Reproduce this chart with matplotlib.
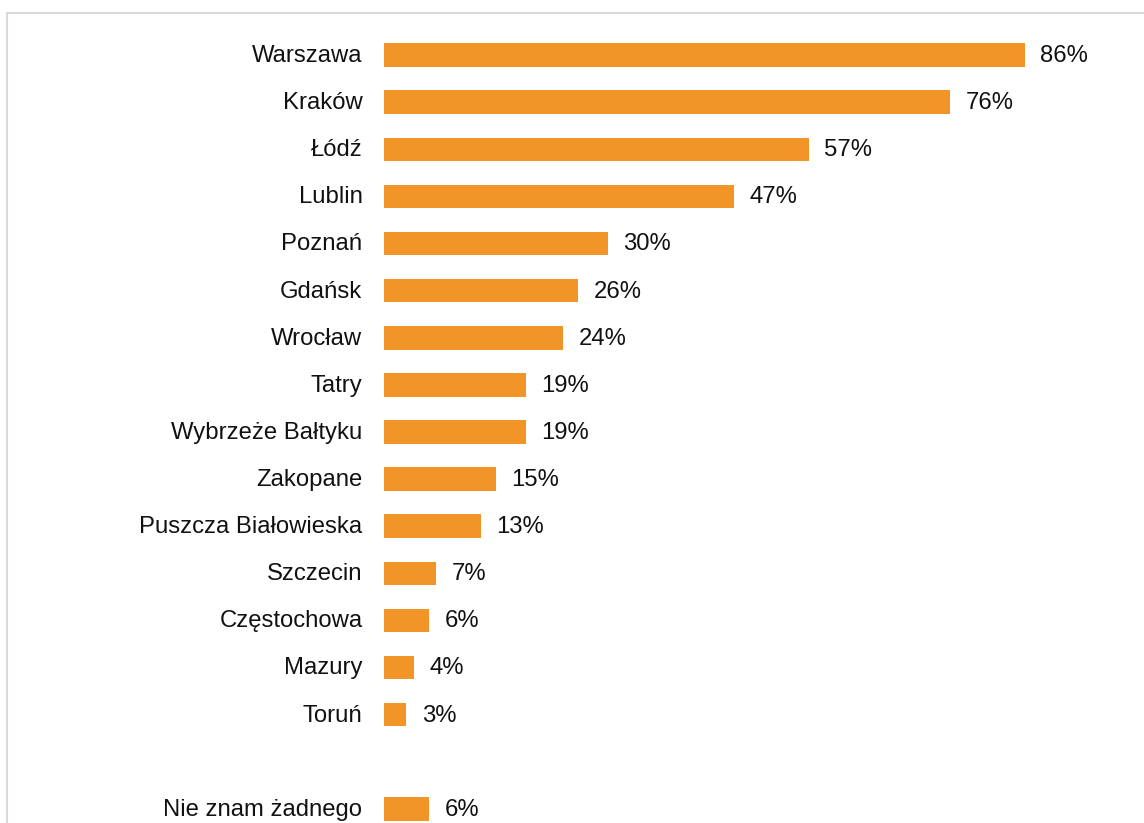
import os
import matplotlib.pyplot as plt
from matplotlib import font_manager
from matplotlib.lines import Line2D

# regular-width Liberation Sans (not the Narrow variant)
font_path = None
for f in font_manager.findSystemFonts():
    if os.path.basename(f) == 'LiberationSans-Regular.ttf':
        font_path = f
        break
if font_path:
    fp = font_manager.FontProperties(fname=font_path, size=17.2)
else:
    fp = font_manager.FontProperties(family='Liberation Sans', size=17.2)

# places people recognise, share of answers in %
places = ["Warszawa", "Kraków", "Łódź", "Lublin", "Poznań", "Gdańsk", "Wrocław",
          "Tatry", "Wybrzeże Bałtyku", "Zakopane", "Puszcza Białowieska",
          "Szczecin", "Częstochowa", "Mazury", "Toruń"]
shares = [86, 76, 57, 47, 30, 26, 24, 19, 19, 15, 13, 7, 6, 4, 3]
none_label = "Nie znam żadnego"
none_share = 6

bar_color = '#F29528'

fig = plt.figure(figsize=(11.44, 8.23), dpi=100)
ax = fig.add_axes([384 / 1144, 0, 760 / 1144, 1])

# one empty row between the list and the "none" answer
labels = places + [none_label]
values = shares + [none_share]
rows = list(range(len(places))) + [len(places) + 1]

ax.barh(rows, values, height=0.5, color=bar_color)
for r, lab, v in zip(rows, labels, values):
    ax.text(-2.9, r + 0.02, lab, ha='right', va='center', fontproperties=fp, color='#111111')
    ax.text(v + 2.1, r + 0.02, f"{v}%", ha='left', va='center', fontproperties=fp, color='#111111')

ax.set_xlim(0, 760 / 7.45)
ax.set_ylim(16.3, -1.17)
ax.axis('off')

# light frame around the chart area
fig.add_artist(Line2D([6.5 / 1144, 1], [1 - 12.5 / 823, 1 - 12.5 / 823],
                      transform=fig.transFigure, color='#D9D9D9', lw=1.5))
fig.add_artist(Line2D([6.5 / 1144, 6.5 / 1144], [0, 1 - 12.5 / 823],
                      transform=fig.transFigure, color='#D9D9D9', lw=1.5))

fig.savefig('out.png', dpi=100)
